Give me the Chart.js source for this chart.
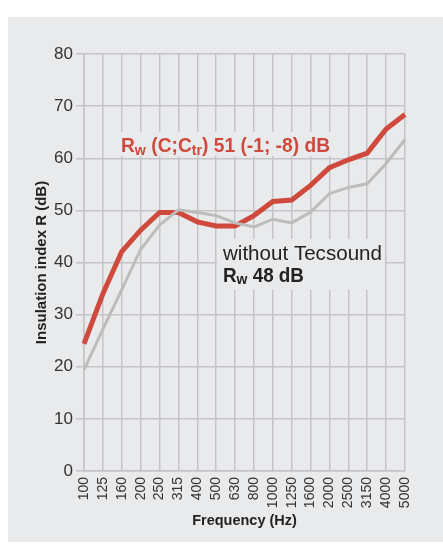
<!DOCTYPE html>
<html>
<head>
<meta charset="utf-8">
<script src="https://cdn.jsdelivr.net/npm/chart.js@4/dist/chart.umd.min.js"></script>
<style>
  html, body { margin: 0; padding: 0; background: #fff; }
  #wrap { width: 443px; height: 544px; }
</style>
</head>
<body>
<div id="wrap"><canvas id="myChart" width="443" height="544"></canvas></div>
<script>
// Data
const freqLabels = ['100', '125', '160', '200', '250', '315', '400', '500', '630', '800',
    '1000', '1250', '1600', '2000', '2500', '3150', '4000', '5000'];
const withTecsound = [24.4, 34.0, 42.1, 46.2, 49.6, 49.6, 47.8, 47.0, 47.0, 49.0,
    51.7, 52.0, 54.8, 58.2, 59.7, 61.0, 65.6, 68.4];
const withoutTecsound = [19.4, 27.2, 34.8, 42.5, 47.2, 50.1, 49.6, 49.0, 47.6, 46.8,
    48.3, 47.6, 49.7, 53.2, 54.4, 55.1, 59.0, 63.6];
const yTicks = [0, 10, 20, 30, 40, 50, 60, 70, 80];

const PANEL = '#e9eaec';
const GRID = '#c4c4c6';
const RED = '#cf4a3c';
const GREY = '#bcbcbc';
const FONT = "'Liberation Sans', Arial, sans-serif";

// draw a run of [text, isSubscript] pieces, optionally squeezed to a width
function drawRuns(ctx, runs, x, y, size, weight, color, fitWidth) {
    const sub = size * 0.74;
    let total = 0;
    runs.forEach(r => {
        ctx.font = `${weight} ${r[1] ? sub : size}px ${FONT}`;
        total += ctx.measureText(r[0]).width;
    });
    const sx = fitWidth ? fitWidth / total : 1;
    ctx.save();
    ctx.translate(x, y);
    ctx.scale(sx, 1);
    ctx.fillStyle = color;
    ctx.textBaseline = 'alphabetic';
    ctx.textAlign = 'left';
    let cx = 0;
    runs.forEach(r => {
        ctx.font = `${weight} ${r[1] ? sub : size}px ${FONT}`;
        ctx.fillText(r[0], cx, r[1] ? size * 0.12 : 0);
        cx += ctx.measureText(r[0]).width;
    });
    ctx.restore();
    return total * sx;
}

// grey panel behind the chart
const panelPlugin = {
    id: 'panel',
    beforeDraw(chart) {
        const c = chart.ctx;
        c.save();
        c.fillStyle = '#fff';
        c.fillRect(0, 0, chart.width, chart.height);
        c.fillStyle = PANEL;
        c.fillRect(8, 17, chart.width - 8, chart.height - 19);
        c.restore();
    }
};

// labels placed in data space
const notesPlugin = {
    id: 'notes',
    beforeDatasetsDraw(chart) {
        const c = chart.ctx;
        const xs = chart.scales.x, ys = chart.scales.y;
        c.save();

        // red Rw label
        let x0 = xs.getPixelForValue(1.96);
        let y0 = ys.getPixelForValue(61.2);
        c.fillStyle = PANEL;
        c.fillRect(x0 - 4, y0 - 20, 217, 24);
        drawRuns(c, [['R', 0], ['w', 1], [' (C;C', 0], ['tr', 1], [') 51 (-1; -8) dB', 0]],
            x0, y0, 21, 'bold', RED, 209);

        // without Tecsound label
        x0 = xs.getPixelForValue(7.36);
        y0 = ys.getPixelForValue(40.5);
        c.fillStyle = PANEL;
        c.fillRect(x0 - 6, y0 - 21, 168, 51);
        drawRuns(c, [['without Tecsound', 0]], x0, y0, 21, 'normal', '#222', 159);
        drawRuns(c, [['R', 0], ['w', 1], [' 48 dB', 0]],
            x0, ys.getPixelForValue(36.3), 20, 'bold', '#222', 81);
        c.restore();
    }
};

const ctx = document.getElementById('myChart').getContext('2d');
new Chart(ctx, {
    type: 'line',
    data: {
        labels: freqLabels,
        datasets: [
            {
                label: 'without Tecsound',
                data: withoutTecsound,
                borderColor: GREY,
                borderWidth: 3,
                pointRadius: 0,
                tension: 0,
                fill: false
            },
            {
                label: 'with Tecsound',
                data: withTecsound,
                borderColor: RED,
                borderWidth: 5,
                pointRadius: 0,
                tension: 0,
                fill: false
            }
        ]
    },
    options: {
        responsive: false,
        animation: false,
        events: [],
        layout: { padding: { left: 8, right: 38, top: 54, bottom: 0 } },
        plugins: {
            legend: { display: false },
            tooltip: { enabled: false }
        },
        scales: {
            x: {
                type: 'category',
                offset: false,
                grid: { color: GRID, lineWidth: 1.5, drawTicks: false, offset: false },
                border: { color: GRID, width: 1.5 },
                ticks: {
                    autoSkip: false,
                    maxRotation: 90,
                    minRotation: 90,
                    padding: 6,
                    color: '#333',
                    font: { family: FONT, size: 14 }
                },
                title: {
                    display: true,
                    text: 'Frequency (Hz)',
                    color: '#222',
                    font: { family: FONT, size: 14.5, weight: 'bold' },
                    padding: { top: 0, bottom: 14 }
                },
                afterFit(s) { s.height = 73; }
            },
            y: {
                min: 0,
                max: 80,
                afterBuildTicks(s) { s.ticks = yTicks.map(v => ({ value: v })); },
                grid: { color: GRID, lineWidth: 1.5, tickLength: 8 },
                border: { color: GRID, width: 1.5 },
                ticks: {
                    padding: 3,
                    color: '#333',
                    font: { family: FONT, size: 17 }
                },
                title: {
                    display: true,
                    text: 'Insulation index R (dB)',
                    color: '#222',
                    font: { family: FONT, size: 15, weight: 'bold' },
                    padding: { top: 25, bottom: 0 }
                },
                afterFit(s) { s.width = 76; }
            }
        }
    },
    plugins: [panelPlugin, notesPlugin]
});
</script>
</body>
</html>
